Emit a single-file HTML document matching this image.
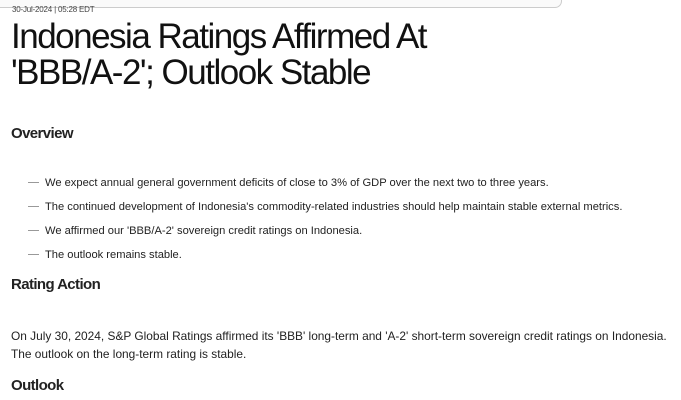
<!DOCTYPE html>
<html><head><meta charset="utf-8"><style>
body{margin:0;width:681px;height:400px;background:#fff;position:relative;overflow:hidden;font-family:"Liberation Sans",sans-serif;color:#1a1a1a}
.a{position:absolute;white-space:nowrap}
.bar{position:absolute;left:-10px;top:-8px;width:570px;height:14px;border:1px solid #ccc;border-radius:7px;background:#fafafa}
.date{left:12px;top:5px;font-size:8px;color:#444;letter-spacing:-0.2px}
.t{left:11px;font-size:35px;letter-spacing:-1.5px;color:#111}
.h{left:11px;font-size:15px;font-weight:bold;letter-spacing:-0.6px;color:#222}
.li{left:45px;font-size:11.15px;color:#222}
.d{left:28px;width:11px;height:1px;background:#999}
.p{left:11px;font-size:11.9px;color:#222}
</style></head><body>
<div class="bar"></div>
<div class="a date">30-Jul-2024 | 05:28 EDT</div>
<div class="a t" style="top:17px">Indonesia Ratings Affirmed At</div>
<div class="a t" style="top:53px">'BBB/A-2'; Outlook Stable</div>
<div class="a h" style="top:125px">Overview</div>
<div class="a d" style="top:182px"></div><div class="a li" style="top:177px">We expect annual general government deficits of close to 3% of GDP over the next two to three years.</div>
<div class="a d" style="top:206px"></div><div class="a li" style="top:201px">The continued development of Indonesia's commodity-related industries should help maintain stable external metrics.</div>
<div class="a d" style="top:230px"></div><div class="a li" style="top:225px">We affirmed our 'BBB/A-2' sovereign credit ratings on Indonesia.</div>
<div class="a d" style="top:254px"></div><div class="a li" style="top:249px">The outlook remains stable.</div>
<div class="a h" style="top:276px">Rating Action</div>
<div class="a p" style="top:329px">On July 30, 2024, S&amp;P Global Ratings affirmed its 'BBB' long-term and 'A-2' short-term sovereign credit ratings on Indonesia.</div>
<div class="a p" style="top:347px">The outlook on the long-term rating is stable.</div>
<div class="a h" style="top:377px">Outlook</div>
</body></html>
